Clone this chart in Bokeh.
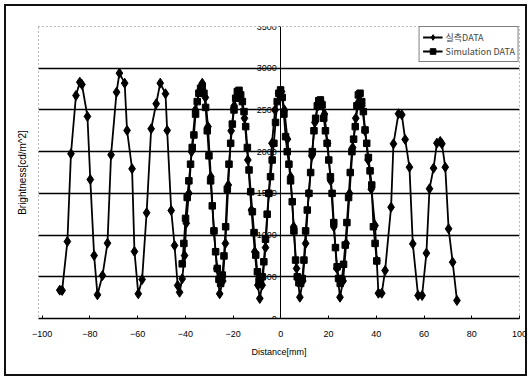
from bokeh.plotting import figure
from bokeh.models import FixedTicker, Legend, LegendItem, Range1d, LinearAxis
from bokeh.embed import file_html
from bokeh.resources import INLINE

# ---- data ----
meas_x = [-92.6, -91.6, -89.4, -87.9, -85.8, -84.2, -83.3, -81.0, -79.8, -78.2,
          -76.8, -74.7, -72.6, -71.1, -68.8, -67.6, -65.4, -64.4, -62.3, -61.3,
          -59.7, -58.1, -56.2, -54.3, -52.2, -50.5, -48.3, -47.6, -45.9, -44.5,
          -43.2, -42.4, -41.3, -40.3, -39.6, -38.5, -37.4, -35.8, -34.2, -32.9,
          -31.6, -30.5, -29.3, -28.0, -26.8, -25.6, -24.3, -23.2, -22.0, -20.8,
          -19.5, -18.0, -16.6, -15.2, -13.8, -12.3, -10.9, -9.6, -8.8, -7.8,
          -6.4, -5.0, -3.7, -2.4, -0.9, 0.3, 1.5, 2.8, 4.1, 5.4,
          6.6, 8.0, 9.2, 10.4, 11.7, 13.0, 14.3, 15.6, 16.9, 18.3,
          19.6, 20.9, 22.2, 23.5, 24.8, 26.1, 27.4, 28.8, 30.1, 31.4,
          32.7, 34.0, 35.3, 36.6, 37.9, 39.5, 40.2, 40.9, 42.3, 43.7,
          46.2, 47.2, 49.3, 50.7, 52.1, 53.9, 55.3, 57.5, 59.2, 61.0,
          62.3, 64.0, 65.4, 66.8, 67.5, 68.9, 70.3, 72.0, 73.8]
meas_y = [340, 336, 923, 1975, 2673, 2833, 2805, 2422, 1666, 755,
          284, 515, 903, 1962, 2713, 2941, 2821, 2254, 1795, 803,
          296, 468, 1267, 2274, 2574, 2821, 2694, 2254, 1295, 875,
          396, 315, 476, 755, 1142, 1500, 2000, 2500, 2720, 2820,
          2650, 2300, 1700, 1050, 600, 296, 450, 900, 1600, 2250,
          2550, 2700, 2620, 2400, 1900, 1300, 800, 400, 240, 400,
          850, 1500, 2100, 2500, 2700, 2720, 2500, 2150, 1700, 1100,
          600, 255, 450, 900, 1500, 1950, 2350, 2550, 2600, 2450,
          2100, 1650, 1100, 600, 255, 450, 900, 1500, 2050, 2400,
          2600, 2550, 2250, 1900, 1550, 1115, 695, 303, 303, 575,
          1334, 2094, 2454, 2442, 2146, 1814, 895, 276, 276, 783,
          1555, 1802, 2102, 2122, 2094, 1814, 1075, 675, 216]

sim_x = [-41.3, -40.6, -39.9, -39.2, -38.5, -37.8, -37.1, -36.4, -35.7, -35.0, -34.3, -33.6,
         -32.9,
         -32.2, -31.5, -30.8, -30.1, -29.4, -28.7, -28.0, -27.3, -26.6, -25.9, -25.2,
         -24.5, -23.8, -23.1, -22.4, -21.7, -21.0, -20.3, -19.6, -18.9, -18.2,
         -17.5,
         -16.8, -16.1, -15.4, -14.7, -14.0, -13.3, -12.6, -11.9, -11.2, -10.5, -9.8, -9.1,
         -8.5,
         -7.8, -7.1, -6.4, -5.7, -5.0, -4.3, -3.6, -2.9, -2.2, -1.5, -0.8,
         -0.1,
         0.6, 1.3, 2.0, 2.7, 3.4, 4.1, 4.8, 5.5, 6.2, 6.9, 7.6,
         8.3,
         9.0, 9.7, 10.4, 11.1, 11.8, 12.5, 13.2, 13.9, 14.6, 15.3, 15.9,
         16.6,
         17.3, 18.0, 18.7, 19.4, 20.1, 20.8, 21.5, 22.2, 22.9, 23.6, 24.2,
         24.9,
         25.6, 26.3, 27.0, 27.7, 28.4, 29.1, 29.8, 30.5, 31.2, 31.9, 32.5,
         33.2,
         33.9, 34.6, 35.3, 36.0, 36.7, 37.4, 38.1, 38.8, 39.5, 40.2]
sim_y = [655, 900, 1200, 1450, 1650, 1850, 2050, 2200, 2450, 2600, 2700, 2760,
         2780,
         2700, 2530, 2250, 1950, 1650, 1350, 1050, 800, 600, 470, 420,
         520, 750, 1100, 1550, 1850, 2100, 2330, 2500, 2640, 2720,
         2735,
         2680, 2600, 2480, 2300, 2050, 1780, 1520, 1280, 1030, 760, 560, 450,
         420,
         500, 680, 950, 1250, 1500, 1700, 1900, 2100, 2350, 2600, 2700,
         2740,
         2650, 2450, 2180, 2000, 1850, 1650, 1400, 1050, 700, 500, 430,
         420,
         480, 700, 1050, 1300, 1500, 1750, 2000, 2250, 2400, 2550, 2610,
         2620,
         2560, 2400, 2250, 2100, 1900, 1700, 1500, 1150, 850, 620, 480,
         420,
         470, 650, 880, 1150, 1450, 1750, 2000, 2150, 2300, 2550, 2680,
         2700,
         2600, 2480, 2260, 2100, 1930, 1770, 1600, 1100, 900, 690]

x_ticks = [-100, -80, -60, -40, -20, 0, 20, 40, 60, 80, 100]
y_ticks = [0, 500, 1000, 1500, 2000, 2500, 3000, 3500]
grid_ticks = [500, 1000, 1500, 2000, 2500, 3000]
meas_label = "실측DATA"
sim_label = "Simulation DATA"
x_title = "Distance[mm]"
y_title = "Brightness[cd/m^2]"

FONT = "Liberation Sans"

p = figure(width=531, height=380, x_range=Range1d(-101.5, 100), y_range=Range1d(0, 3500),
           output_backend="svg", toolbar_location=None,
           min_border_left=38, min_border_right=12, min_border_top=26, min_border_bottom=62)
# outer frame of the whole chart, painted behind a transparent border area
p.styles = {"background-color": "white",
            "box-shadow": "inset 0 0 0 4px #ffffff, inset 0 0 0 6px #111111"}
p.background_fill_color = "white"
p.border_fill_alpha = 0
p.outline_line_color = "#777777"
p.outline_line_dash = "1 3"
p.outline_line_width = 1

# x axis
xa = p.xaxis[0]
xa.ticker = FixedTicker(ticks=x_ticks)
xa.axis_line_color = "black"
xa.axis_line_width = 1.5
xa.major_tick_in = 3
xa.major_tick_out = 0
xa.minor_tick_line_color = None
xa.major_label_standoff = 12
xa.major_label_text_font = FONT
xa.major_label_text_font_size = "9px"
xa.major_label_text_color = "black"
xa.axis_label = x_title
xa.axis_label_text_font = FONT
xa.axis_label_text_font_size = "9px"
xa.axis_label_text_font_style = "normal"
xa.axis_label_text_color = "black"
xa.axis_label_standoff = 7

# y axis drawn at x = 0
ya = p.yaxis[0]
ya.fixed_location = 0
ya.ticker = FixedTicker(ticks=y_ticks)
ya.axis_line_color = "black"
ya.axis_line_width = 1
ya.major_tick_in = 0
ya.major_tick_out = 2
ya.minor_tick_line_color = None
ya.major_label_standoff = 2
ya.major_label_text_font = FONT
ya.major_label_text_font_size = "9px"
ya.major_label_text_color = "black"

# y title at the left edge
yt = LinearAxis(ticker=FixedTicker(ticks=[]), axis_line_color=None,
                major_tick_line_color=None, minor_tick_line_color=None,
                axis_label=y_title, axis_label_standoff=11,
                axis_label_text_font=FONT, axis_label_text_font_size="10px",
                axis_label_text_font_style="normal", axis_label_text_color="black")
p.add_layout(yt, "left")

p.xgrid.visible = False
p.ygrid.ticker = FixedTicker(ticks=grid_ticks)
p.ygrid.grid_line_color = "black"
p.ygrid.grid_line_width = 1.3

l1 = p.line(meas_x, meas_y, line_color="black", line_width=1.8)
s1 = p.scatter(meas_x, meas_y, marker="diamond", size=10, fill_color="black", line_color="black")
l2 = p.line(sim_x, sim_y, line_color="black", line_width=1.8)
s2 = p.scatter(sim_x, sim_y, marker="square", size=6.5, fill_color="black", line_color="black")

legend = Legend(items=[LegendItem(label=meas_label, renderers=[l1, s1]),
                       LegendItem(label=sim_label, renderers=[l2, s2])],
                location="top_right", margin=0, padding=3, spacing=0,
                glyph_width=20, glyph_height=14, label_height=14, label_standoff=3,
                label_text_font="Noto Sans CJK KR", label_text_font_size="9px",
                border_line_color="black", border_line_width=1,
                background_fill_color="white", background_fill_alpha=1)
p.add_layout(legend)

open("out.html", "w").write(file_html(p, INLINE))
